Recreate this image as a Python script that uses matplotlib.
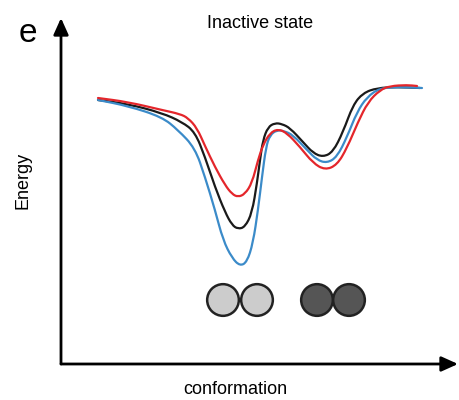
import matplotlib
matplotlib.use('Agg')
import matplotlib.pyplot as plt
from matplotlib.path import Path
from matplotlib.patches import PathPatch

plt.rcParams['font.family'] = ['Liberation Sans', 'DejaVu Sans']

# energy landscape (arbitrary units)
red_x = [37, 67, 101, 119, 127, 136, 144, 154, 164, 171, 177, 184, 191, 197, 202,
         209, 217, 226, 239, 252, 264, 276, 286, 297, 307, 319, 329, 346, 356]
red_e = [266, 262, 254, 250, 246, 236, 218, 197, 179, 170, 167, 170, 181, 204, 219,
         231, 235, 231, 217, 201, 194, 199, 216, 242, 262, 274, 278, 279, 278]

black_x = [37, 67, 101, 121, 134, 144, 154, 164, 171, 177, 184, 191, 196, 199, 202,
           207, 214, 221, 229, 242, 252, 262, 272, 282, 292, 302, 316, 336, 359]
black_e = [264, 260, 251, 242, 232, 207, 177, 152, 139, 135, 137, 151, 181, 204, 224,
           237, 241, 240, 236, 222, 211, 207, 212, 232, 259, 271, 276, 277, 276]

blue_x = [37, 67, 101, 117, 134, 144, 154, 162, 171, 179, 186, 192, 197, 201, 205,
          209, 216, 223, 232, 246, 256, 266, 276, 286, 296, 306, 319, 339, 361]
blue_e = [264, 258, 247, 234, 216, 187, 154, 124, 106, 98, 102, 121, 154, 187, 217,
          229, 234, 233, 229, 214, 204, 201, 207, 227, 252, 267, 276, 277, 276]

bead_x = [162, 196, 256, 288]
bead_e = [64, 64, 64, 64]
bead_colors = ['#cccccc', '#cccccc', '#555555', '#555555']


def smooth_path(xs, ys):
    # quadratic bezier through midpoints, the read points act as control points
    pts = list(zip(xs, ys))
    verts = [pts[0]]
    codes = [Path.MOVETO]
    mid = ((pts[0][0] + pts[1][0]) / 2, (pts[0][1] + pts[1][1]) / 2)
    verts.append(mid)
    codes.append(Path.LINETO)
    for i in range(1, len(pts) - 1):
        nxt = ((pts[i][0] + pts[i + 1][0]) / 2, (pts[i][1] + pts[i + 1][1]) / 2)
        verts += [pts[i], nxt]
        codes += [Path.CURVE3, Path.CURVE3]
    verts.append(pts[-1])
    codes.append(Path.LINETO)
    return Path(verts, codes)


fig = plt.figure(figsize=(4.6, 4.0), dpi=100)
ax = fig.add_axes([61 / 460, 36 / 400, 397 / 460, 346 / 400])
ax.set_xlim(0, 397)
ax.set_ylim(0, 346)
for s in ax.spines.values():
    s.set_visible(False)
ax.set_xticks([])
ax.set_yticks([])

for xs, ys, col in [(black_x, black_e, '#1a1a1a'),
                    (blue_x, blue_e, '#3b8bc9'),
                    (red_x, red_e, '#e4262b')]:
    ax.add_patch(PathPatch(smooth_path(xs, ys), fill=False, edgecolor=col,
                           lw=1.6, capstyle='round', joinstyle='round'))

ax.scatter(bead_x, bead_e, s=520, c=bead_colors, edgecolors='#222222',
           linewidths=1.8, zorder=3)

# axis arrows
arrow = dict(arrowstyle='-|>,head_length=1.0,head_width=0.45', color='black',
             lw=2.0, shrinkA=0, shrinkB=0)
ax.annotate('', xy=(0, 1), xytext=(0, 0), xycoords='axes fraction',
            arrowprops=arrow, annotation_clip=False)
ax.annotate('', xy=(1, 0), xytext=(0, 0), xycoords='axes fraction',
            arrowprops=arrow, annotation_clip=False)

fig.text(235 / 460, 1 - 389 / 400, 'conformation', ha='center', va='center', fontsize=13)
fig.text(23 / 460, 1 - 180 / 400, 'Energy', ha='center', va='center',
         rotation=90, fontsize=13)
fig.text(260 / 460, 1 - 24 / 400, 'Inactive state', ha='center', va='center', fontsize=13)
fig.text(28 / 460, 1 - 33 / 400, 'e', ha='center', va='center', fontsize=24)

fig.savefig('out.png', dpi=100)
